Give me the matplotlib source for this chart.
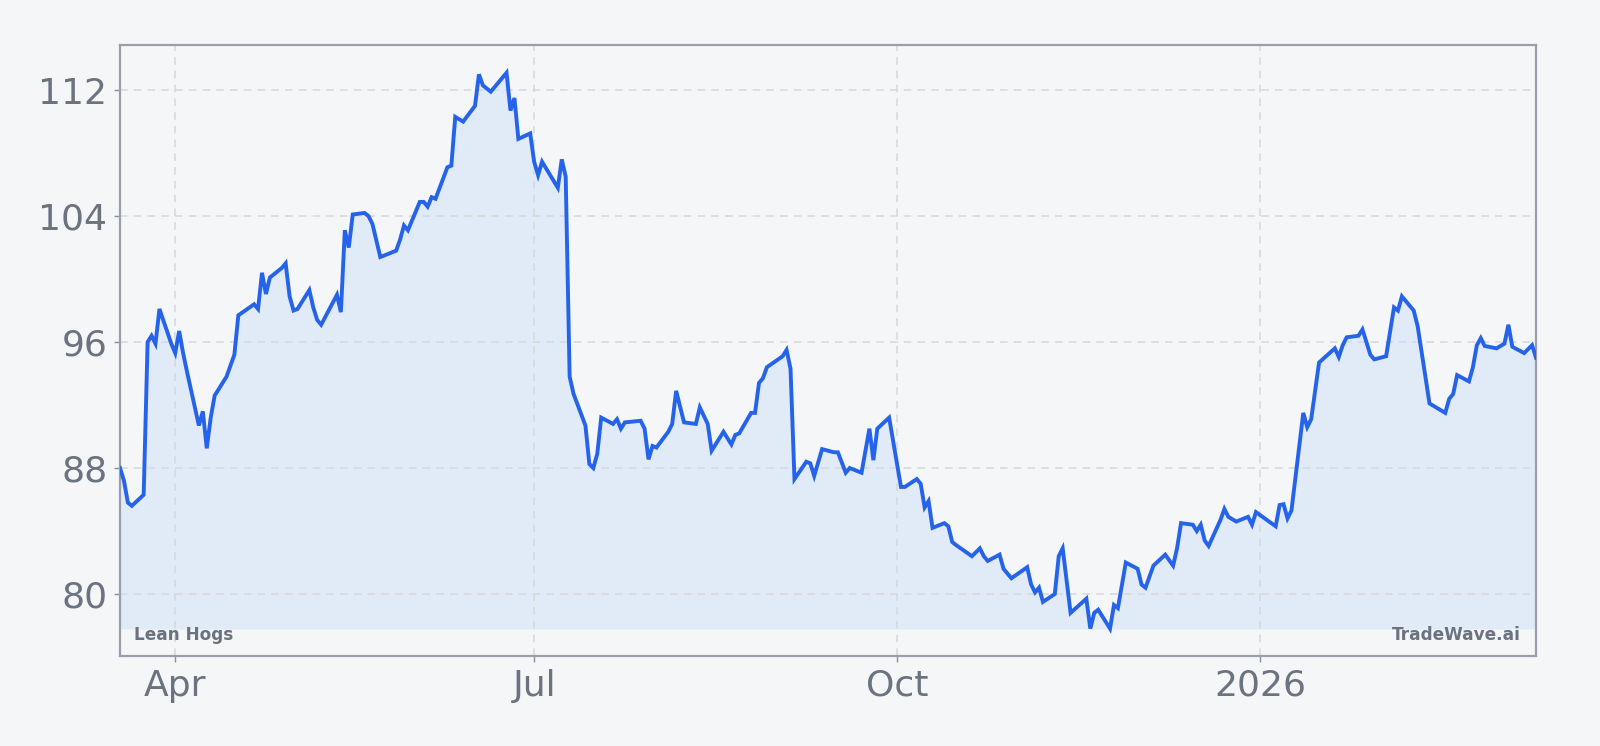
import pandas as pd
import matplotlib
matplotlib.use("Agg")
import matplotlib.pyplot as plt

# lean hogs futures
dates = [
    "2025-03-18", "2025-03-19", "2025-03-20", "2025-03-21", "2025-03-24", "2025-03-25", "2025-03-26",
    "2025-03-27", "2025-03-28", "2025-03-31", "2025-04-01", "2025-04-02", "2025-04-03", "2025-04-04",
    "2025-04-07", "2025-04-08", "2025-04-09", "2025-04-10", "2025-04-11", "2025-04-14", "2025-04-15",
    "2025-04-16", "2025-04-17", "2025-04-21", "2025-04-22", "2025-04-23", "2025-04-24", "2025-04-25",
    "2025-04-28", "2025-04-29", "2025-04-30", "2025-05-01", "2025-05-02", "2025-05-05", "2025-05-06",
    "2025-05-07", "2025-05-08", "2025-05-12", "2025-05-13", "2025-05-14", "2025-05-15", "2025-05-16",
    "2025-05-19", "2025-05-20", "2025-05-21", "2025-05-23", "2025-05-27", "2025-05-28", "2025-05-29",
    "2025-05-30", "2025-06-02", "2025-06-03", "2025-06-04", "2025-06-05", "2025-06-06", "2025-06-09",
    "2025-06-10", "2025-06-11", "2025-06-13", "2025-06-16", "2025-06-17", "2025-06-18", "2025-06-20",
    "2025-06-24", "2025-06-25", "2025-06-26", "2025-06-27", "2025-06-30", "2025-07-01", "2025-07-02",
    "2025-07-03", "2025-07-07", "2025-07-08", "2025-07-09", "2025-07-10", "2025-07-11", "2025-07-14",
    "2025-07-15", "2025-07-16", "2025-07-17", "2025-07-18", "2025-07-21", "2025-07-22", "2025-07-23",
    "2025-07-24", "2025-07-28", "2025-07-29", "2025-07-30", "2025-07-31", "2025-08-01", "2025-08-04",
    "2025-08-05", "2025-08-06", "2025-08-08", "2025-08-11", "2025-08-12", "2025-08-14", "2025-08-15",
    "2025-08-18", "2025-08-20", "2025-08-21", "2025-08-22", "2025-08-25", "2025-08-26", "2025-08-27",
    "2025-08-28", "2025-08-29", "2025-09-02", "2025-09-03", "2025-09-04", "2025-09-05", "2025-09-08",
    "2025-09-09", "2025-09-10", "2025-09-12", "2025-09-15", "2025-09-16", "2025-09-18", "2025-09-19",
    "2025-09-22", "2025-09-24", "2025-09-25", "2025-09-26", "2025-09-29", "2025-10-02", "2025-10-03",
    "2025-10-06", "2025-10-07", "2025-10-08", "2025-10-09", "2025-10-10", "2025-10-13", "2025-10-14",
    "2025-10-15", "2025-10-16", "2025-10-20", "2025-10-22", "2025-10-23", "2025-10-24", "2025-10-27",
    "2025-10-28", "2025-10-30", "2025-11-03", "2025-11-04", "2025-11-05", "2025-11-06", "2025-11-07",
    "2025-11-10", "2025-11-11", "2025-11-12", "2025-11-14", "2025-11-18", "2025-11-19", "2025-11-20",
    "2025-11-21", "2025-11-24", "2025-11-25", "2025-11-26", "2025-11-28", "2025-12-01", "2025-12-02",
    "2025-12-03", "2025-12-05", "2025-12-08", "2025-12-10", "2025-12-11", "2025-12-12", "2025-12-15",
    "2025-12-16", "2025-12-17", "2025-12-18", "2025-12-19", "2025-12-22", "2025-12-23", "2025-12-24",
    "2025-12-26", "2025-12-29", "2025-12-30", "2025-12-31", "2026-01-05", "2026-01-06", "2026-01-07",
    "2026-01-08", "2026-01-09", "2026-01-12", "2026-01-13", "2026-01-14", "2026-01-16", "2026-01-20",
    "2026-01-21", "2026-01-22", "2026-01-23", "2026-01-26", "2026-01-27", "2026-01-29", "2026-01-30",
    "2026-02-02", "2026-02-04", "2026-02-05", "2026-02-06", "2026-02-09", "2026-02-10", "2026-02-13",
    "2026-02-17", "2026-02-18", "2026-02-19", "2026-02-20", "2026-02-23", "2026-02-24", "2026-02-25",
    "2026-02-26", "2026-02-27", "2026-03-02", "2026-03-04", "2026-03-05", "2026-03-06", "2026-03-09",
    "2026-03-11", "2026-03-12",
]
prices = [
    88.0, 87.2, 85.8, 85.6, 86.3, 96.0, 96.4,
    95.9, 98.1, 95.9, 95.3, 96.7, 95.3, 94.1,
    90.7, 91.6, 89.25, 91.2, 92.6, 93.8, 94.5,
    95.2, 97.7, 98.4, 98.1, 100.4, 99.05, 100.1,
    100.7, 101.0, 98.9, 98.0, 98.1, 99.3, 98.2,
    97.4, 97.1, 99.0, 97.9, 103.1, 102.0, 104.1,
    104.2, 104.0, 103.5, 101.4, 101.8, 102.5, 103.4,
    103.1, 104.9, 104.9, 104.6, 105.2, 105.1, 107.1,
    107.2, 110.3, 110.0, 111.0, 113.0, 112.3, 111.9,
    113.1, 110.7, 111.5, 108.9, 109.25, 107.45, 106.6,
    107.45, 105.8, 107.6, 106.5, 93.8, 92.7, 90.7,
    88.25, 88.0, 88.9, 91.2, 90.8, 91.1, 90.5,
    90.9, 91.0, 90.5, 88.55, 89.4, 89.3, 90.3,
    90.8, 92.9, 90.9, 90.8, 91.85, 90.8, 89.1,
    90.3, 89.5, 90.1, 90.2, 91.5, 91.5, 93.4,
    93.7, 94.4, 95.1, 95.5, 94.3, 87.3, 88.4,
    88.3, 87.5, 89.2, 89.0, 89.0, 87.7, 88.0,
    87.7, 90.5, 88.5, 90.5, 91.2, 86.8, 86.8,
    87.3, 87.0, 85.5, 85.9, 84.2, 84.5, 84.3,
    83.3, 83.1, 82.4, 82.9, 82.4, 82.1, 82.5,
    81.6, 81.0, 81.7, 80.6, 80.1, 80.4, 79.5,
    80.0, 82.4, 82.9, 78.8, 79.7, 77.8, 78.8,
    79.0, 77.8, 79.3, 79.1, 82.0, 81.6, 80.6,
    80.4, 81.8, 82.5, 81.8, 82.9, 84.5, 84.4,
    84.0, 84.4, 83.4, 83.05, 84.7, 85.4, 84.9,
    84.6, 84.9, 84.4, 85.2, 84.3, 85.65, 85.7,
    84.8, 85.3, 91.5, 90.6, 91.1, 94.7, 95.6,
    95.05, 95.8, 96.3, 96.4, 96.8, 95.2, 94.9,
    95.1, 98.2, 98.0, 98.9, 98.0, 97.0, 92.1,
    91.5, 92.4, 92.7, 93.9, 93.5, 94.4, 95.8,
    96.25, 95.75, 95.6, 95.9, 97.1, 95.7, 95.3,
    95.8, 95.0,
]
tick_dates = ["2025-04-01", "2025-07-01", "2025-10-01", "2026-01-01"]
tick_labels = ["Apr", "Jul", "Oct", "2026"]
y_ticks = [80, 88, 96, 104, 112]

bg = "#f4f6f8"
blue = "#2563eb"
grey = "#6b7280"

x = pd.to_datetime(dates)

fig = plt.figure(figsize=(16, 7.46), dpi=100, facecolor=bg)
ax = fig.add_axes([0.075, 0.1206, 0.885, 0.8194])
ax.set_facecolor(bg)

base = 77.78
ax.fill_between(x, prices, base, color="#3b82f6", alpha=0.1, lw=0, zorder=1)
ax.plot(x, prices, color=blue, lw=2.8, solid_joinstyle="miter", zorder=3)

ax.set_xlim(x[0], x[-1])
ax.set_ylim(76.06, 114.88)
ax.set_yticks(y_ticks)
ax.set_yticklabels([str(v) for v in y_ticks])
ax.set_xticks(pd.to_datetime(tick_dates))
ax.set_xticklabels(tick_labels)

ax.grid(True, color="#d4d8de", ls=(0, (5, 4)), lw=1.1, zorder=0)
ax.tick_params(axis="both", labelsize=26, colors=grey, length=4, width=1, pad=5)
ax.tick_params(axis="both", color="#8b909a")
for s in ax.spines.values():
    s.set_color("#9a9eaa")
    s.set_linewidth(1.6)

ax.text(0.0101, 0.026, "Lean Hogs", transform=ax.transAxes, fontsize=12.2,
        fontweight="bold", color=grey, ha="left", va="baseline")
ax.text(0.989, 0.026, "TradeWave.ai", transform=ax.transAxes, fontsize=12.2,
        fontweight="bold", color=grey, ha="right", va="baseline")

fig.savefig("out.png", dpi=100, facecolor=bg)
